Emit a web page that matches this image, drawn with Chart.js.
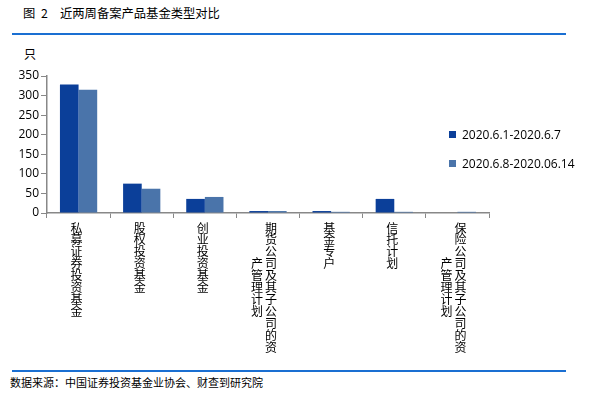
<!DOCTYPE html>
<html>
<head>
<meta charset="utf-8">
<script src="https://cdn.jsdelivr.net/npm/chart.js@4/dist/chart.umd.min.js"></script>
<style>
    body { margin: 0; width: 591px; height: 396px; background: #fff; position: relative; overflow: hidden;
           font-family: "Noto Sans CJK SC", "Noto Sans", sans-serif; color: #000; }
    .title { position: absolute; top: 4px; font-size: 12.3px; white-space: nowrap; }
    .rule { position: absolute; left: 12px; width: 554px; height: 2px; background: #1a6fd2; }
    .unit { position: absolute; left: 24px; top: 45px; font-size: 12px; }
    .source { position: absolute; left: 10px; top: 374px; font-size: 11px; }
    #legend { position: absolute; left: 449px; top: 126px; font-size: 12px; font-family: "Open Sans", "Noto Sans", sans-serif; }
    #legend div { height: 29px; display: flex; align-items: flex-start; }
    #legend span.box { width: 7px; height: 7px; margin: 5px 6px 0 0; display: inline-block; }
    #wrap { position: absolute; left: 0; top: 60px; width: 591px; height: 310px; }
</style>
</head>
<body>
<div class="title" style="left:23px">图</div>
<div class="title" style="left:41px">2</div>
<div class="title" style="left:60px">近两周备案产品基金类型对比</div>
<div class="rule" style="top:33px"></div>
<div class="unit">只</div>
<div id="wrap"><canvas id="chart"></canvas></div>
<div id="legend"></div>
<div class="rule" style="top:370px"></div>
<div class="source">数据来源：中国证券投资基金业协会、财查到研究院</div>

<script>
// 类别（每个类别按列拆分，竖排显示）
const categories = [
    ['私募证券投资基金'],
    ['股权投资基金'],
    ['创业投资基金'],
    ['期货公司及其子公司的资', '产管理计划'],
    ['基金专户'],
    ['信托计划'],
    ['保险公司及其子公司的资', '产管理计划']
];
const seriesNames = ['2020.6.1-2020.6.7', '2020.6.8-2020.06.14'];
const week1 = [328, 75, 36, 5, 5, 36, 0];
const week2 = [315, 62, 41, 5, 3, 3, 3];
const yTicks = [0, 50, 100, 150, 200, 250, 300, 350];
const colors = ['#0b3f99', '#4a74aa'];

// 竖排的分类标签
const verticalLabels = {
    id: 'verticalLabels',
    afterDraw(chart) {
        const ctx = chart.ctx;
        const x = chart.scales.x;
        const top = chart.chartArea.bottom + 9;
        const step = 11.9;
        ctx.save();
        ctx.font = '12px "Noto Sans CJK SC"';
        ctx.fillStyle = '#000';
        ctx.textAlign = 'center';
        ctx.textBaseline = 'top';
        categories.forEach((cols, i) => {
            const cx = x.getPixelForValue(i) - 2;
            cols.forEach((col, c) => {
                // 第一列在右，第二列在左并下移三行
                const colX = cols.length > 1 ? cx + (c === 0 ? 5 : -9) : cx;
                const startY = top + (c === 0 ? 0 : 3 * step);
                [...col].forEach((ch, k) => ctx.fillText(ch, colX, startY + k * step));
            });
        });
        ctx.restore();
    }
};

const ctx = document.getElementById('chart').getContext('2d');
new Chart(ctx, {
    type: 'bar',
    data: {
        labels: categories.map(c => c.join('')),
        datasets: [
            { label: seriesNames[0], data: week1, backgroundColor: colors[0] },
            { label: seriesNames[1], data: week2, backgroundColor: colors[1] }
        ]
    },
    options: {
        responsive: true,
        maintainAspectRatio: false,
        animation: false,
        layout: { padding: { left: 0, right: 102, top: 16, bottom: 0 } },
        datasets: { bar: { barPercentage: 1, categoryPercentage: 0.59 } },
        plugins: { legend: { display: false }, tooltip: { enabled: false } },
        scales: {
            x: {
                grid: { drawOnChartArea: false, color: '#888', tickLength: 5, offset: true },
                border: { color: '#888', width: 1.5 },
                ticks: { display: false },
                afterFit: s => { s.height = 157; }
            },
            y: {
                min: 0,
                max: 350,
                afterBuildTicks: s => { s.ticks = yTicks.map(v => ({ value: v })); },
                grid: { drawOnChartArea: false, color: '#888', tickLength: 6 },
                border: { color: '#888', width: 1.5 },
                ticks: { color: '#000', padding: 2, font: { family: '"Open Sans"', size: 12 } },
                afterFit: s => { s.width = 47; }
            }
        }
    },
    plugins: [verticalLabels]
});

// 图例
const legend = document.getElementById('legend');
seriesNames.forEach((name, i) => {
    const row = document.createElement('div');
    row.innerHTML = `<span class="box" style="background:${colors[i]}"></span>${name}`;
    legend.appendChild(row);
});
</script>
</body>
</html>
